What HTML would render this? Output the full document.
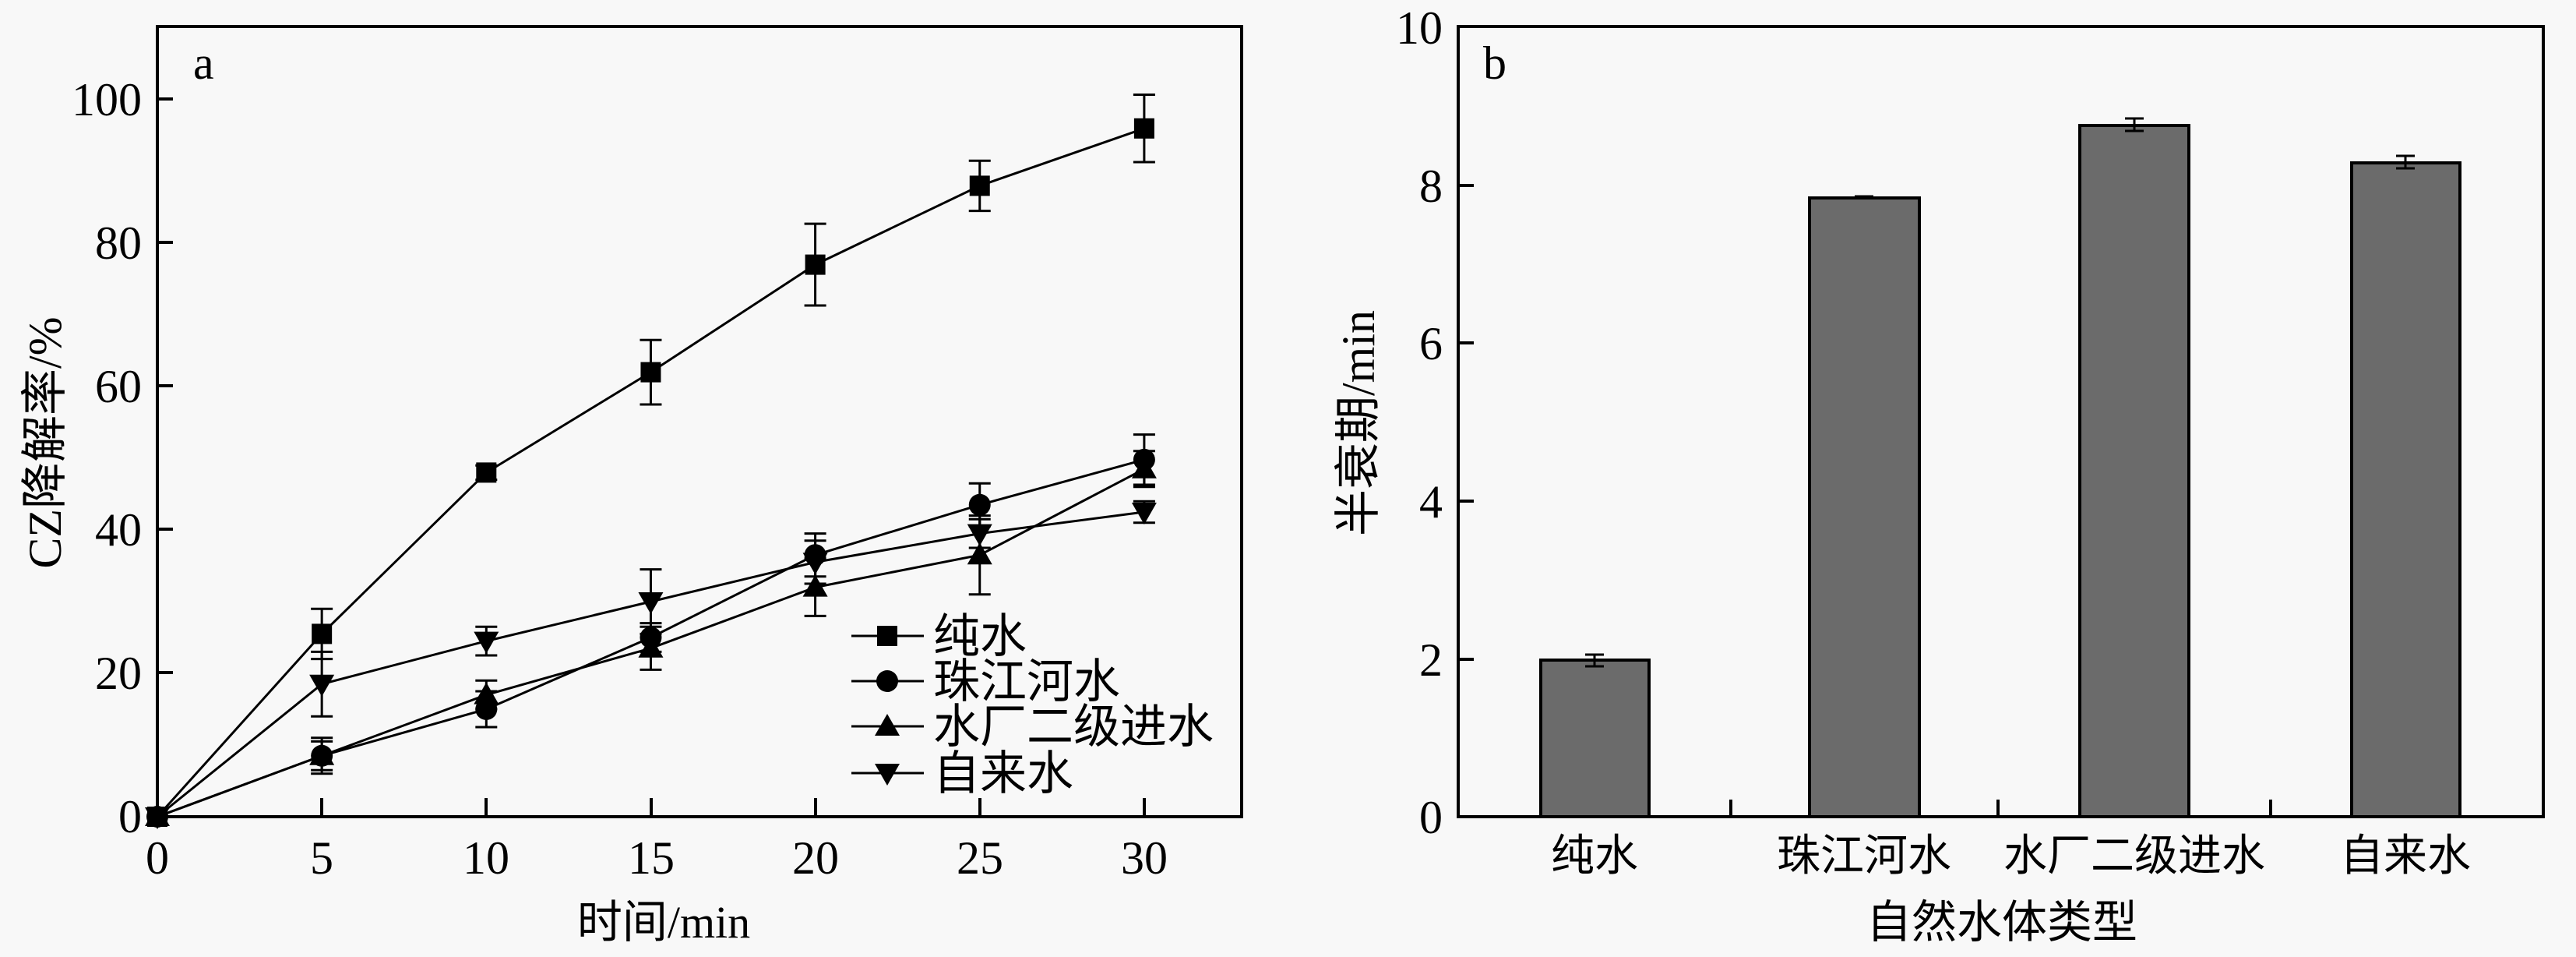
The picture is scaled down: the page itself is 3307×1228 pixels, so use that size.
<!DOCTYPE html>
<html><head><meta charset="utf-8"><style>
html,body{margin:0;padding:0;background:#f8f8f8}
svg{display:block}
text{font-family:"Liberation Serif","Noto Serif CJK SC",serif;fill:#000}
.cj{font-family:"Liberation Serif","Noto Sans CJK SC",sans-serif}
</style></head><body>
<svg width="3307" height="1228" viewBox="0 0 3307 1228" xmlns="http://www.w3.org/2000/svg">
<rect width="3307" height="1228" fill="#f8f8f8"/>
<!-- Panel a -->
<g id="pa">
<rect x="202" y="34" width="1392" height="1014" fill="none" stroke="#000" stroke-width="4"/>
<g stroke="#000" stroke-width="4">
<line x1="202" y1="127" x2="222" y2="127"/><line x1="202" y1="311" x2="222" y2="311"/>
<line x1="202" y1="495" x2="222" y2="495"/><line x1="202" y1="679" x2="222" y2="679"/>
<line x1="202" y1="863" x2="222" y2="863"/>
<line x1="413" y1="1048" x2="413" y2="1024"/><line x1="624" y1="1048" x2="624" y2="1024"/>
<line x1="836" y1="1048" x2="836" y2="1024"/><line x1="1047" y1="1048" x2="1047" y2="1024"/>
<line x1="1258" y1="1048" x2="1258" y2="1024"/><line x1="1469" y1="1048" x2="1469" y2="1024"/>
</g>
<g font-size="60" text-anchor="end">
<text x="182" y="148">100</text><text x="182" y="332">80</text><text x="182" y="516">60</text>
<text x="182" y="700">40</text><text x="182" y="884">20</text><text x="182" y="1068">0</text>
</g>
<g font-size="60" text-anchor="middle">
<text x="202" y="1121">0</text><text x="413" y="1121">5</text><text x="624" y="1121">10</text>
<text x="836" y="1121">15</text><text x="1047" y="1121">20</text><text x="1258" y="1121">25</text><text x="1469" y="1121">30</text>
</g>
<text x="248" y="101" font-size="60">a</text>
<text class="cj" x="852" y="1203" font-size="58" text-anchor="middle">时间/min</text>
<text class="cj" transform="translate(78,568) rotate(-90)" font-size="60" text-anchor="middle">CZ降解率/%</text>
<g id="series" stroke="#000" stroke-width="3" fill="none"></g>
<g id="legend">
<g stroke="#000" stroke-width="3">
<line x1="1093" y1="816" x2="1186" y2="816"/><line x1="1093" y1="874" x2="1186" y2="874"/>
<line x1="1093" y1="932" x2="1186" y2="932"/><line x1="1093" y1="992" x2="1186" y2="992"/>
</g>
<rect x="1126" y="803" width="26" height="26" fill="#000"/>
<circle cx="1139" cy="874" r="14" fill="#000"/>
<polygon points="1139,916 1155,944 1123,944" fill="#000"/>
<polygon points="1123,980 1155,980 1139,1008" fill="#000"/>
<g class="cj" font-size="60">
<text class="cj" x="1198" y="837">纯水</text><text class="cj" x="1198" y="895">珠江河水</text>
<text class="cj" x="1198" y="953">水厂二级进水</text><text class="cj" x="1198" y="1013">自来水</text>
</g>
</g>
</g>
<!-- Panel b -->
<g id="pb">
<g fill="#6b6b6b" stroke="#000" stroke-width="4">
<rect x="1978" y="847" width="139" height="201"/>
<rect x="2323" y="254" width="141" height="794"/>
<rect x="2670" y="161" width="140" height="887"/>
<rect x="3019" y="209" width="139" height="839"/>
</g>
<g stroke="#000" stroke-width="3">
<line x1="2047" y1="840" x2="2047" y2="855"/><line x1="2035" y1="840" x2="2059" y2="840"/><line x1="2035" y1="855" x2="2059" y2="855"/>
<line x1="2381" y1="252" x2="2405" y2="252"/>
<line x1="2740" y1="152" x2="2740" y2="168"/><line x1="2728" y1="152" x2="2752" y2="152"/><line x1="2728" y1="168" x2="2752" y2="168"/>
<line x1="3088" y1="200" x2="3088" y2="216"/><line x1="3076" y1="200" x2="3100" y2="200"/><line x1="3076" y1="216" x2="3100" y2="216"/>
</g>
<rect x="1872" y="34" width="1393" height="1014" fill="none" stroke="#000" stroke-width="4"/>
<g stroke="#000" stroke-width="4">
<line x1="1872" y1="238" x2="1892" y2="238"/><line x1="1872" y1="440" x2="1892" y2="440"/>
<line x1="1872" y1="643" x2="1892" y2="643"/><line x1="1872" y1="846" x2="1892" y2="846"/>
<line x1="2222" y1="1048" x2="2222" y2="1026"/><line x1="2565" y1="1048" x2="2565" y2="1026"/>
<line x1="2915" y1="1048" x2="2915" y2="1026"/>
</g>
<g font-size="60" text-anchor="end">
<text x="1852" y="56">10</text><text x="1852" y="259">8</text><text x="1852" y="461">6</text>
<text x="1852" y="664">4</text><text x="1852" y="867">2</text><text x="1852" y="1069">0</text>
</g>
<text x="1904" y="101" font-size="60">b</text>
<g font-size="56" text-anchor="middle">
<text class="cj" x="2047" y="1117">纯水</text><text class="cj" x="2393" y="1117">珠江河水</text>
<text class="cj" x="2740" y="1117">水厂二级进水</text><text class="cj" x="3088" y="1117">自来水</text>
</g>
<text class="cj" x="2570" y="1203" font-size="58" text-anchor="middle">自然水体类型</text>
<text class="cj" transform="translate(1764,543) rotate(-90)" font-size="60" text-anchor="middle">半衰期/min</text>
</g>
<script>
(function(){
var g=document.getElementById('series');var ns='http://www.w3.org/2000/svg';
function X(t){return 202+t*42.23}function Y(v){return 1048-v*9.2}
var xs=[0,5,10,15,20,25,30];
var S=[
{m:'sq',v:[0,25.5,48,62,77,88,96],e:[0,3.5,1,4.5,5.7,3.5,4.7]},
{m:'ci',v:[0,8.5,15,25,36.5,43.5,49.8],e:[0,2,2.5,2,3,3,3.5]},
{m:'up',v:[0,8.5,17,23.5,32,36.5,48.5],e:[0,2.5,2,3,4,5.5,2.5]},
{m:'dn',v:[0,18.5,24.5,30,35.5,39.5,42.5],e:[0,4.5,2,4.5,3,2,1.5]}];
function el(n,a){var e=document.createElementNS(ns,n);for(var k in a)e.setAttribute(k,a[k]);g.appendChild(e);return e}
S.forEach(function(s){
var p=s.v.map(function(v,i){return X(xs[i])+','+Y(v)}).join(' ');
el('polyline',{points:p});
s.v.forEach(function(v,i){var x=X(xs[i]),y=Y(v);
if(s.e[i]>0){var a=Y(v+s.e[i]),b=Y(v-s.e[i]);
el('line',{x1:x,y1:a,x2:x,y2:b});el('line',{x1:x-14,y1:a,x2:x+14,y2:a});el('line',{x1:x-14,y1:b,x2:x+14,y2:b});}
var f={fill:'#000',stroke:'none'};
if(s.m=='sq'){f.x=x-13;f.y=y-13;f.width=26;f.height=26;el('rect',f)}
else if(s.m=='ci'){f.cx=x;f.cy=y;f.r=14;el('circle',f)}
else if(s.m=='up'){f.points=(x)+','+(y-16)+' '+(x+16)+','+(y+12)+' '+(x-16)+','+(y+12);el('polygon',f)}
else{f.points=(x-16)+','+(y-12)+' '+(x+16)+','+(y-12)+' '+x+','+(y+16);el('polygon',f)}
});});
})();
</script>
</svg>
</body></html>
